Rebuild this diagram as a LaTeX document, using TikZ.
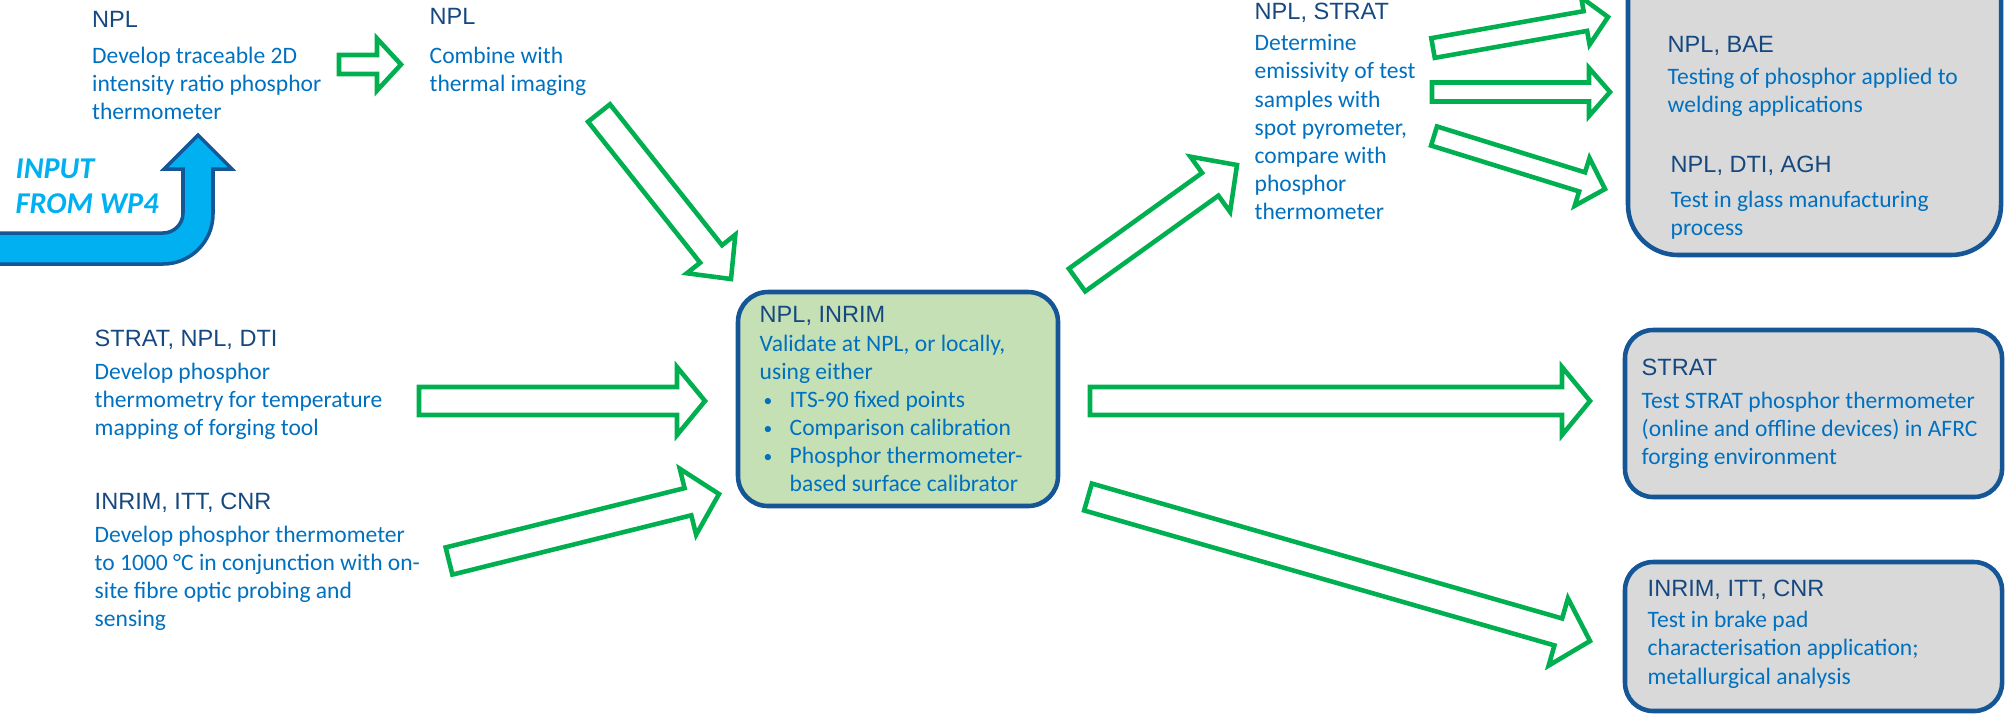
\documentclass[tikz,border=0pt]{standalone}
\usepackage{fontspec}
\usepackage{tikz}
\usetikzlibrary{calc}
\newfontfamily\bodyfont{Carlito}
\newfontfamily\headfont{Liberation Sans}

\definecolor{headblue}{RGB}{22,72,128}
\definecolor{bodyblue}{RGB}{0,112,192}
\definecolor{boxblue}{RGB}{20,86,150}
\definecolor{arrowgreen}{RGB}{0,176,80}
\definecolor{validgreen}{RGB}{197,224,180}
\definecolor{boxgray}{RGB}{217,217,217}
\definecolor{wpcyan}{RGB}{0,176,240}

\newcommand{\grouphead}[1]{{\headfont\color{headblue}#1}}
\newcommand{\bul}{\hspace*{0.04cm}\makebox[0.26cm][l]{\raisebox{0.2pt}{\fontsize{5}{8}\selectfont\textbullet}}}
% tail, tip, half shaft, half head, head length
\newcommand{\hollowarrow}[5]{%
	\coordinate (hb) at ($(#2)!#5!(#1)$);
	\draw[greenarrow] ($(#1)!#3!90:(#2)$) -- ($(hb)!#3!90:(#2)$) -- ($(hb)!#4!90:(#2)$) -- (#2)
	-- ($(hb)!#4!-90:(#2)$) -- ($(hb)!#3!-90:(#2)$) -- ($(#1)!#3!-90:(#2)$) -- cycle;
}

\tikzset{
	txt/.style={anchor=north west, inner sep=0pt, align=left, text=bodyblue,
		font=\bodyfont\fontsize{6.7}{8}\selectfont},
	box/.style={draw=boxblue, line width=1.3pt, rounded corners=0.28cm},
	greenarrow/.style={draw=arrowgreen, line width=1.3pt, fill=white},
	wparrow/.style={draw=boxblue, line width=1pt, fill=wpcyan}
}

\begin{document}
\begin{tikzpicture}
	\useasboundingbox (0,0) rectangle (20.1,-7.15);
	
	%Boxes
	\node[box, fill=validgreen, rounded corners=0.3cm, minimum width=3.2cm, minimum height=2.14cm] (valid) at (8.98,-3.99) {};
	\node[box, fill=boxgray, rounded corners=0.5cm, minimum width=3.73cm, minimum height=3.15cm] (glass) at (18.145,-0.975) {};
	\node[box, fill=boxgray, minimum width=3.77cm, minimum height=1.67cm] (forge) at (18.135,-4.135) {};
	\node[box, fill=boxgray, minimum width=3.77cm, minimum height=1.49cm] (brake) at (18.135,-6.365) {};
	
	%Input from WP4
	\draw[wparrow] (-0.1,-2.64) -- (1.63,-2.64) arc[start angle=-90, end angle=0, radius=0.5]
	-- (2.13,-1.69) -- (2.32,-1.69) -- (1.98,-1.35) -- (1.64,-1.69) -- (1.83,-1.69)
	-- (1.83,-2.13) arc[start angle=0, end angle=-90, radius=0.2] -- (-0.1,-2.33) -- cycle;
	\node[txt, text=wpcyan, font=\bodyfont\bfseries\itshape\fontsize{8.6}{10}\selectfont] (wp4) at (0.15,-1.58) {INPUT\\FROM WP4};
	
	%Texts
	\node[txt] (develop) at (0.915,-0.11) {\grouphead{NPL}\\[2pt]Develop traceable 2D\\intensity ratio phosphor\\thermometer};
	\node[txt] (combine) at (4.29,-0.08) {\grouphead{NPL}\\[3pt]Combine with\\thermal imaging};
	\node[txt] (emiss) at (12.54,-0.02) {\grouphead{NPL, STRAT}\\[1pt]Determine\\emissivity of test\\samples with\\spot pyrometer,\\compare with\\phosphor\\thermometer};
	\node[txt] (mapping) at (0.94,-3.29) {\grouphead{STRAT, NPL, DTI}\\[1.5pt]Develop phosphor\\thermometry for temperature\\mapping of forging tool};
	\node[txt] (fibre) at (0.94,-4.92) {\grouphead{INRIM, ITT, CNR}\\[1.5pt]Develop phosphor thermometer\\to 1000 °C in conjunction with on-\\site fibre optic probing and\\sensing};
	\node[txt] (validtxt) at (7.59,-3.06) {\grouphead{NPL, INRIM}\\Validate at NPL, or locally,\\using either\\
		\bul ITS-90 fixed points\\
		\bul Comparison calibration\\
		\bul Phosphor thermometer-\\
		\hspace*{0.30cm}based surface calibrator};
	\node[txt] (welding) at (16.67,-0.36) {\grouphead{NPL, BAE}\\[1pt]Testing of phosphor applied to\\welding applications};
	\node[txt] (glasstxt) at (16.70,-1.55) {\grouphead{NPL, DTI, AGH}\\[2pt]Test in glass manufacturing\\process};
	\node[txt] (forgetxt) at (16.41,-3.58) {\grouphead{STRAT}\\[1.5pt]Test STRAT phosphor thermometer\\(online and offline devices) in AFRC\\forging environment};
	\node[txt] (braketxt) at (16.47,-5.79) {\grouphead{INRIM, ITT, CNR}\\[1pt]Test in brake pad\\characterisation application;\\metallurgical analysis};
	
	%Arrow ends
	\coordinate (a1s) at (3.39,-0.645);
	\coordinate (a1e) at (4.01,-0.645);
	\coordinate (a2s) at (5.99,-1.13);
	\coordinate (a2e) at (7.31,-2.79);
	\coordinate (a3s) at (4.19,-4.01);
	\coordinate (a3e) at (7.05,-4.01);
	\coordinate (a4s) at (4.49,-5.61);
	\coordinate (a4e) at (7.19,-4.94);
	\coordinate (a5s) at (10.77,-2.80);
	\coordinate (a5e) at (12.37,-1.65);
	\coordinate (a6s) at (10.90,-4.01);
	\coordinate (a6e) at (15.90,-4.01);
	\coordinate (a7s) at (10.88,-4.97);
	\coordinate (a7e) at (15.90,-6.41);
	\coordinate (a8s) at (14.33,-0.48);
	\coordinate (a8e) at (16.08,-0.17);
	\coordinate (a9s) at (14.32,-0.92);
	\coordinate (a9e) at (16.10,-0.92);
	\coordinate (a10s) at (14.34,-1.36);
	\coordinate (a10e) at (16.05,-1.89);
	
	%Drawing arrows
	\hollowarrow{a1s}{a1e}{0.095cm}{0.26cm}{0.24cm}
	\hollowarrow{a2s}{a2e}{0.14cm}{0.31cm}{0.32cm}
	\hollowarrow{a3s}{a3e}{0.14cm}{0.34cm}{0.28cm}
	\hollowarrow{a4s}{a4e}{0.14cm}{0.34cm}{0.32cm}
	\hollowarrow{a5s}{a5e}{0.14cm}{0.34cm}{0.33cm}
	\hollowarrow{a6s}{a6e}{0.14cm}{0.34cm}{0.28cm}
	\hollowarrow{a7s}{a7e}{0.14cm}{0.35cm}{0.33cm}
	\hollowarrow{a8s}{a8e}{0.10cm}{0.24cm}{0.23cm}
	\hollowarrow{a9s}{a9e}{0.095cm}{0.24cm}{0.21cm}
	\hollowarrow{a10s}{a10e}{0.10cm}{0.25cm}{0.24cm}
	
\end{tikzpicture}
\end{document}
